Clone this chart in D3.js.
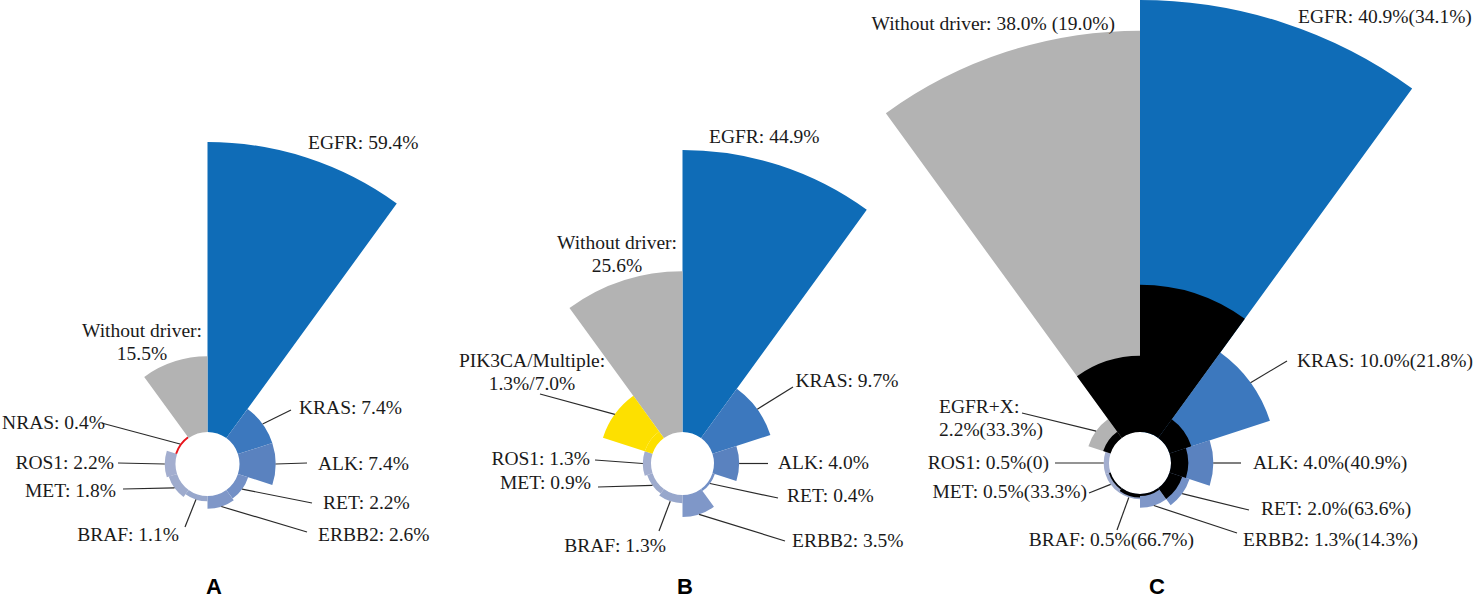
<!DOCTYPE html>
<html>
<head>
<meta charset="utf-8">
<script src="https://cdn.jsdelivr.net/npm/d3@7"></script>
<style>
  html, body { margin: 0; padding: 0; background: #fff; }
  svg { display: block; }
  .lbl { font-family: "Liberation Serif", Tinos, "Times New Roman", "DejaVu Serif", serif; font-size: 19.5px; fill: #1a1a1a; }
  .panel-letter { font-family: "Liberation Sans", Arial, sans-serif; font-weight: bold; font-size: 22px; fill: #000; }
  .leader { stroke: #2a2a2a; stroke-width: 1.2; fill: none; }
</style>
</head>
<body>
<div id="chart"></div>
<script>
// --- Données ---
const categoriesA = ['EGFR', 'KRAS', 'ALK', 'RET', 'ERBB2', 'BRAF', 'MET', 'ROS1', 'NRAS', 'Without driver'];
const valuesA = [59.4, 7.4, 7.4, 2.2, 2.6, 1.1, 1.8, 2.2, 0.4, 15.5];
const labelsA = ['EGFR: 59.4%', 'KRAS: 7.4%', 'ALK: 7.4%', 'RET: 2.2%', 'ERBB2: 2.6%', 'BRAF: 1.1%',
  'MET: 1.8%', 'ROS1: 2.2%', 'NRAS: 0.4%', 'Without driver:\n15.5%'];

const categoriesB = ['EGFR', 'KRAS', 'ALK', 'RET', 'ERBB2', 'BRAF', 'MET', 'ROS1', 'PIK3CA/Multiple', 'Without driver'];
const valuesB = [44.9, 9.7, 4.0, 0.4, 3.5, 1.3, 0.9, 1.3, 1.3, 25.6];
// part "Multiple", empilée au-dessus de PIK3CA
const stackedB = [0, 0, 0, 0, 0, 0, 0, 0, 7.0, 0];
const labelsB = ['EGFR: 44.9%', 'KRAS: 9.7%', 'ALK: 4.0%', 'RET: 0.4%', 'ERBB2: 3.5%', 'BRAF: 1.3%',
  'MET: 0.9%', 'ROS1: 1.3%', 'PIK3CA/Multiple:\n1.3%/7.0%', 'Without driver:\n25.6%'];

const categoriesC = ['EGFR', 'KRAS', 'ALK', 'RET', 'ERBB2', 'BRAF', 'MET', 'ROS1', 'EGFR+X', 'Without driver'];
const valuesC = [40.9, 10.0, 4.0, 2.0, 1.3, 0.5, 0.5, 0.5, 2.2, 38.0];
// part (en %) de chaque secteur dessinée en noir
const blackShareC = [34.1, 21.8, 40.9, 63.6, 14.3, 66.7, 33.3, 0, 33.3, 19.0];
const labelsC = ['EGFR: 40.9%(34.1%)', 'KRAS: 10.0%(21.8%)', 'ALK: 4.0%(40.9%)', 'RET: 2.0%(63.6%)',
  'ERBB2: 1.3%(14.3%)', 'BRAF: 0.5%(66.7%)', 'MET: 0.5%(33.3%)', 'ROS1: 0.5%(0)',
  'EGFR+X:\n2.2%(33.3%)', 'Without driver: 38.0% (19.0%)'];

// --- Couleurs par catégorie ---
const colorOf = {
  'EGFR': '#0f6cb7', 'KRAS': '#3c78be', 'ALK': '#5a82bf', 'RET': '#7390c6', 'ERBB2': '#7f97c8',
  'BRAF': '#97a7cc', 'MET': '#9eabcd', 'ROS1': '#a3aecf', 'NRAS': '#e8141c',
  'PIK3CA/Multiple': '#fde000', 'Without driver': '#b3b3b3', 'EGFR+X': '#b3b3b3',
};

// --- Mise en page (positions relatives au centre de chaque panneau) ---
const layoutA = [
  { text: [100.5, -315], anchor: 'start' },
  { end: [83.5, -54], text: [91.5, -50], anchor: 'start' },
  { end: [99.5, -1], text: [110.5, 6], anchor: 'start' },
  { end: [104.5, 39], text: [115.5, 45], anchor: 'start' },
  { end: [99.5, 68], text: [110.5, 77], anchor: 'start' },
  { end: [-22.5, 63], text: [-28.5, 77], anchor: 'end' },
  { end: [-84.5, 25], text: [-91.5, 33], anchor: 'end' },
  { end: [-89.5, -1], text: [-93.5, 5], anchor: 'end' },
  { end: [-106, -41], text: [-102.5, -35], anchor: 'end' },
  { text: [-65.5, -127], anchor: 'middle' },
];
const layoutB = [
  { text: [26.5, -320.5], anchor: 'start' },
  { end: [110.5, -76.5], text: [113, -76.5], anchor: 'start' },
  { end: [85.5, 0], text: [95.5, 5.5], anchor: 'start' },
  { end: [95.5, 34.5], text: [104.5, 38.5], anchor: 'start' },
  { end: [102.5, 77.5], text: [109.5, 83.5], anchor: 'start' },
  { end: [-23.5, 67.5], text: [-16.5, 88.5], anchor: 'end' },
  { end: [-84.5, 23.5], text: [-91.5, 25.5], anchor: 'end' },
  { end: [-87.5, -3.5], text: [-92.5, 1.5], anchor: 'end' },
  { end: [-142.5, -69.5], text: [-150.5, -96.5], anchor: 'middle' },
  { text: [-65.5, -214.5], anchor: 'middle' },
];
const layoutC = [
  { text: [158, -440], anchor: 'start' },
  { end: [147, -102], text: [157, -96], anchor: 'start' },
  { end: [101, 0], text: [113, 6], anchor: 'start' },
  { end: [109, 47], text: [121, 52], anchor: 'start' },
  { end: [97, 70], text: [103, 83], anchor: 'start' },
  { end: [-23, 67], text: [54, 83], anchor: 'end' },
  { end: [-51, 30], text: [-53, 35], anchor: 'end' },
  { end: [-85, 0], text: [-91, 6], anchor: 'end' },
  { end: [-118, -50], text: [-201, -50], anchor: 'start' },
  { text: [-25, -433], anchor: 'end' },
];

const panels = [
  { letter: 'A', cx: 207.5, cy: 464, r0: 32, rMax: 322, letterX: 214,
    categories: categoriesA, values: valuesA, labels: labelsA, layout: layoutA },
  { letter: 'B', cx: 682.5, cy: 463.5, r0: 31.5, rMax: 313.5, letterX: 685,
    categories: categoriesB, values: valuesB, stacked: stackedB, labels: labelsB, layout: layoutB },
  { letter: 'C', cx: 1140, cy: 463, r0: 31, rMax: 463, letterX: 1157,
    categories: categoriesC, values: valuesC, black: blackShareC, labels: labelsC, layout: layoutC },
];

const width = 1477;
const height = 602;

const svg = d3.select('#chart').append('svg')
  .attr('width', width)
  .attr('height', height);

for (const p of panels) {
  const total = p.values.map((v, i) => v + (p.stacked ? p.stacked[i] : 0));
  const angle = d3.scaleBand().domain(p.categories).range([0, 2 * Math.PI]);
  const radius = d3.scaleLinear().domain([0, d3.max(total)]).range([p.r0, p.rMax]);
  const arc = d3.arc();

  const g = svg.append('g').attr('transform', `translate(${p.cx},${p.cy})`);

  const rows = p.categories.map((c, i) => ({
    cat: c, i, value: p.values[i], total: total[i],
    a0: angle(c), a1: angle(c) + angle.bandwidth(),
  }));

  // secteurs principaux
  g.append('g').selectAll('path')
    .data(rows)
    .join('path')
    .attr('d', d => arc({ innerRadius: p.r0, outerRadius: radius(d.value), startAngle: d.a0, endAngle: d.a1 }))
    .attr('fill', d => colorOf[d.cat]);

  // part empilée (PIK3CA / Multiple)
  if (p.stacked) {
    g.append('g').selectAll('path')
      .data(rows.filter(d => p.stacked[d.i] > 0))
      .join('path')
      .attr('d', d => arc({ innerRadius: radius(d.value), outerRadius: radius(d.total), startAngle: d.a0, endAngle: d.a1 }))
      .attr('fill', d => colorOf[d.cat]);
  }

  // part noire (C)
  if (p.black) {
    g.append('g').selectAll('path')
      .data(rows.filter(d => p.black[d.i] > 0))
      .join('path')
      .attr('d', d => arc({ innerRadius: p.r0, outerRadius: radius(d.value * p.black[d.i] / 100), startAngle: d.a0, endAngle: d.a1 }))
      .attr('fill', '#000');
  }

  // traits de rappel + étiquettes
  rows.forEach(d => {
    const lay = p.layout[d.i];
    if (lay.end) {
      const start = d3.pointRadial((d.a0 + d.a1) / 2, radius(d.total));
      g.append('line').attr('class', 'leader')
        .attr('x1', start[0]).attr('y1', start[1])
        .attr('x2', lay.end[0]).attr('y2', lay.end[1]);
    }
    const lines = p.labels[d.i].split('\n');
    const t = g.append('text').attr('class', 'lbl')
      .attr('text-anchor', lay.anchor)
      .attr('x', lay.text[0]).attr('y', lay.text[1]);
    lines.forEach((s, k) => {
      t.append('tspan').attr('x', lay.text[0]).attr('dy', k === 0 ? 0 : 23).text(s);
    });
  });

  svg.append('text').attr('class', 'panel-letter')
    .attr('text-anchor', 'middle')
    .attr('x', p.letterX).attr('y', 594)
    .text(p.letter);
}
</script>
</body>
</html>
